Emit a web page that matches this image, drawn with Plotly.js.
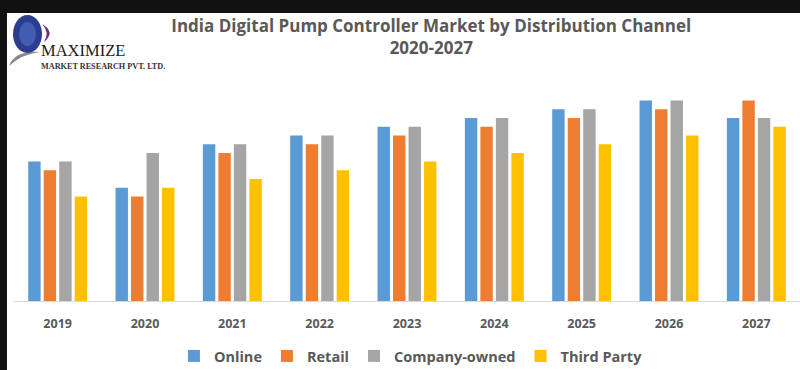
<!DOCTYPE html>
<html>
<head>
<meta charset="utf-8">
<script src="https://cdn.plot.ly/plotly-3.0.1.min.js"></script>
<style>
html,body{margin:0;padding:0;background:#111111;}
#wrap{position:absolute;left:7px;top:13px;width:793px;height:357px;background:#ffffff;}
#chart{width:793px;height:357px;}
</style>
</head>
<body>
<div id="wrap"><div id="chart"></div></div>
<script>
const years = ["2019","2020","2021","2022","2023","2024","2025","2026","2027"];
const online = [16, 13, 18, 19, 20, 21, 22, 23, 21];
const retail = [15, 12, 17, 18, 19, 20, 21, 22, 23];
const companyOwned = [16, 17, 18, 19, 20, 21, 22, 23, 21];
const thirdParty = [12, 13, 14, 15, 16, 17, 18, 19, 20];
const seriesNames = ["Online", "Retail", "Company-owned", "Third Party"];
const seriesColors = ["#5b9bd5", "#ed7d31", "#a5a5a5", "#ffc000"];
const titleText = "India Digital Pump Controller Market by Distribution Channel<br>2020-2027";

const allSeries = [online, retail, companyOwned, thirdParty];
const traces = allSeries.map((vals, i) => ({
  type: "bar",
  x: years,
  y: vals,
  name: seriesNames[i],
  marker: {color: seriesColors[i]},
  hoverinfo: "x+y+name"
}));

// plot area in div coordinates: x 7..793, y 68..288
const L = 7, T = 68, W = 786, H = 220;
const px = x => (x - 7 - L) / W;      // page x -> paper
const py = y => (288 - (y - 13)) / H; // page y -> paper

const shapes = [
  {type:"path", xref:"paper", yref:"paper",
   path:`M ${px(9)} ${py(66)} Q ${px(15)} ${py(50)} ${px(40)} ${py(52)} Q ${px(22)} ${py(54)} ${px(9)} ${py(66)} Z`,
   fillcolor:"#8a8a8a", line:{width:0}},
  {type:"circle", xref:"paper", yref:"paper",
   x0:px(13), x1:px(42), y0:py(53), y1:py(15),
   fillcolor:"#2a3d8f", line:{width:0}},
  {type:"circle", xref:"paper", yref:"paper",
   x0:px(19), x1:px(36), y0:py(46), y1:py(22),
   fillcolor:"#4a63b8", line:{width:0}, opacity:0.8},
  {type:"path", xref:"paper", yref:"paper",
   path:`M ${px(42)} ${py(24)} Q ${px(56)} ${py(32)} ${px(44)} ${py(42)} Q ${px(50)} ${py(32)} ${px(42)} ${py(24)} Z`,
   fillcolor:"#6b2f7a", line:{width:0}}
];

const annotations = [
  {text:"MAXIMIZE", xref:"paper", yref:"paper", x:px(39), y:py(50), xanchor:"left", yanchor:"middle",
   showarrow:false, font:{family:"Liberation Serif, DejaVu Serif, serif", size:16.5, color:"#1c1c1c"}},
  {text:"MARKET RESEARCH PVT. LTD.", xref:"paper", yref:"paper", x:px(39), y:py(66), xanchor:"left", yanchor:"middle",
   showarrow:false, font:{family:"Liberation Serif, DejaVu Serif, serif", size:8.2, color:"#333333", weight:"bold"}}
];

const layout = {
  width: 793, height: 357,
  margin: {l: L, r: 0, t: T, b: 69, pad: 0},
  paper_bgcolor: "#ffffff",
  plot_bgcolor: "#ffffff",
  title: {
    text: titleText,
    x: 0.535, xanchor: "center", xref: "container",
    y: 1 - 19/357, yanchor: "top", yref: "container",
    font: {family: "Open Sans, sans-serif", size: 17, color: "#595959", weight: "bold"}
  },
  barmode: "group",
  bargap: 0.29,
  bargroupgap: 0.2,
  xaxis: {
    type: "category",
    showgrid: false,
    showline: true, linecolor: "#d9d9d9", linewidth: 1,
    ticks: "", ticklen: 0,
    ticklabelstandoff: 11,
    tickfont: {family: "Open Sans, sans-serif", size: 12.5, color: "#595959", weight: "bold"},
    fixedrange: true
  },
  yaxis: {
    range: [0, 25.25],
    showgrid: false, zeroline: false, showline: false,
    showticklabels: false, ticks: "",
    fixedrange: true
  },
  showlegend: true,
  legend: {
    orientation: "h",
    x: 0.505, xanchor: "center", xref: "paper",
    y: 14/357, yanchor: "middle", yref: "container",
    font: {family: "Open Sans, sans-serif", size: 14.5, color: "#595959", weight: "bold"},
    itemwidth: 30,
    tracegroupgap: 0
  },
  shapes: shapes,
  annotations: annotations
};

Plotly.newPlot("chart", traces, layout, {displayModeBar: false, staticPlot: true});
</script>
</body>
</html>
